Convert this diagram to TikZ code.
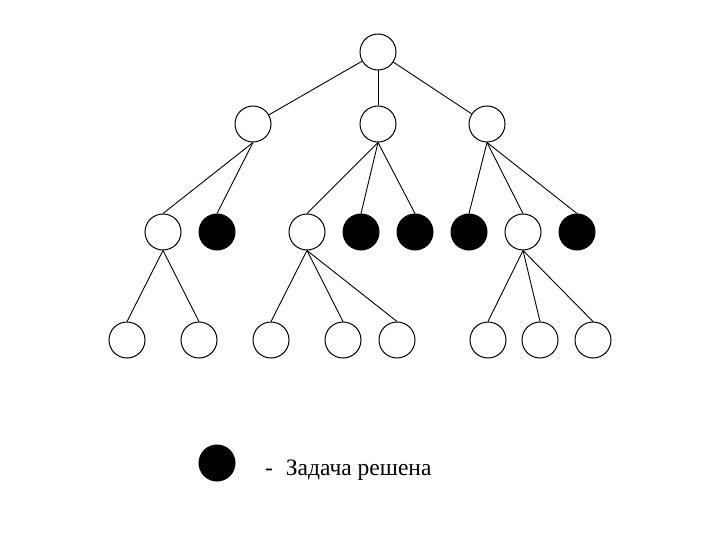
\documentclass[tikz,border=0pt]{standalone}
\usepackage{fontspec}
\setmainfont{Liberation Serif}
\begin{document}
\begin{tikzpicture}[x=1pt,y=-1pt,
    every node/.style={inner sep=0pt},
    open/.style={circle,draw,line width=1pt,minimum size=36pt},
    solved/.style={circle,draw,fill=black,line width=1pt,minimum size=36pt},
    edge/.style={line width=0.9pt}]
      \useasboundingbox (0,0) rectangle (720,540);

      \node[open] (r) at (378,52) {};

      \node[open] (a1) at (253,124) {};
      \node[open] (a2) at (378,124) {};
      \node[open] (a3) at (487,124) {};

      \node[open]   (b1) at (163,232) {};
      \node[solved] (b2) at (217,232) {};
      \node[open]   (b3) at (307,232) {};
      \node[solved] (b4) at (361,232) {};
      \node[solved] (b5) at (415,232) {};
      \node[solved] (b6) at (469,232) {};
      \node[open]   (b7) at (523,232) {};
      \node[solved] (b8) at (577,232) {};

      \node[open] (c1) at (127,340) {};
      \node[open] (c2) at (199,340) {};
      \node[open] (c3) at (271,340) {};
      \node[open] (c4) at (343,340) {};
      \node[open] (c5) at (397,340) {};
      \node[open] (c6) at (488,340) {};
      \node[open] (c7) at (540,340) {};
      \node[open] (c8) at (593,340) {};

      \node[solved] (key) at (217,463) {};
      \node[anchor=base west,font=\fontsize{23.5}{28}\selectfont] (keytext) at (265,475) {-\hspace{0.55em}Задача решена};

      \draw[edge] (r) -- (a1);
      \draw[edge] (r) -- (a2);
      \draw[edge] (r) -- (a3);
      \draw[edge] (a1.south) -- (b1.north);
      \draw[edge] (a1.south) -- (b2.north);
      \draw[edge] (a2.south) -- (b3.north);
      \draw[edge] (a2.south) -- (b4.north);
      \draw[edge] (a2.south) -- (b5.north);
      \draw[edge] (a3.south) -- (b6.north);
      \draw[edge] (a3.south) -- (b7.north);
      \draw[edge] (a3.south) -- (b8.north);
      \draw[edge] (b1.south) -- (c1.north);
      \draw[edge] (b1.south) -- (c2.north);
      \draw[edge] (b3.south) -- (c3.north);
      \draw[edge] (b3.south) -- (c4.north);
      \draw[edge] (b3.south) -- (c5.north);
      \draw[edge] (b7.south) -- (c6.north);
      \draw[edge] (b7.south) -- (c7.north);
      \draw[edge] (b7.south) -- (c8.north);
    \end{tikzpicture}
\end{document}
